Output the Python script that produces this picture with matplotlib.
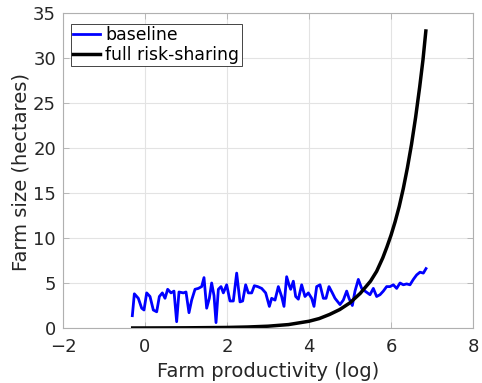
import matplotlib
matplotlib.use("Agg")
import matplotlib.pyplot as plt

zx_base = [397, 403, 415, 425, 432, 440, 450, 460, 470, 478, 487, 495, 503, 513, 522, 530, 537, 550, 558, 567,
           575, 585, 595, 605, 612, 620, 628, 635, 642, 648, 655, 663, 670, 680, 690, 700, 710, 720, 728, 737,
           745, 755, 763, 773, 785, 797, 808, 815, 825, 835, 845, 852, 860, 867, 872, 880, 887, 895, 905, 915,
           925, 935, 942, 950, 960, 970, 978, 987, 997, 1005, 1020, 1030, 1040, 1047, 1057, 1065, 1075, 1085,
           1095, 1110, 1120, 1130, 1140, 1150, 1160, 1170, 1180, 1190, 1200, 1210, 1220, 1230, 1240, 1250,
           1260, 1270, 1278]
baseline_x = [round((v - 435) / 123.0, 3) for v in zx_base]
baseline_y = [1.37, 3.8, 3.3, 2.2, 2.0, 3.9, 3.5, 2.0, 1.8, 3.5, 3.9, 3.3, 4.3, 3.9, 4.1, 0.7, 4.0, 3.9, 4.0, 1.7,
              3.1, 4.3, 4.4, 4.6, 5.6, 2.2, 3.3, 5.0, 3.6, 0.6, 4.3, 4.6, 3.9, 4.8, 3.0, 3.0, 6.1, 2.9, 3.0, 4.8,
              3.9, 3.9, 4.7, 4.6, 4.4, 3.9, 2.4, 3.3, 3.1, 4.6, 3.5, 2.4, 5.7, 4.8, 4.3, 5.2, 3.5, 3.2, 4.8, 3.5,
              3.9, 3.3, 2.4, 4.6, 4.8, 3.3, 3.3, 4.6, 3.9, 3.3, 2.6, 3.1, 4.1, 3.3, 2.5, 4.1, 5.4, 4.4,
              4.1, 3.7, 4.4, 3.5, 3.7, 4.1, 4.6, 4.6, 4.8, 4.4, 5.0, 4.8, 4.9, 4.8, 5.4, 5.9,
              6.2, 6.1, 6.6]

risk_x = [-0.3, 0.5, 1.0, 1.5, 2.0, 2.5, 3.0, 3.5, 4.0, 4.25, 4.5, 4.75, 5.0, 5.25, 5.5, 5.65, 5.8, 5.9, 6.0,
          6.1, 6.2, 6.3, 6.4, 6.5, 6.6, 6.7, 6.78, 6.85]
risk_y = [0.0, 0.01, 0.02, 0.04, 0.06, 0.11, 0.2, 0.38, 0.75, 1.05, 1.5, 2.05, 2.8, 3.85, 5.2, 6.3, 7.8, 9.0, 10.3,
          11.8, 13.5, 15.5, 17.8, 20.4, 23.4, 26.8, 29.8, 33.0]

x_ticks = [-2, 0, 2, 4, 6, 8]
y_ticks = [0, 5, 10, 15, 20, 25, 30, 35]

plt.rcParams['font.family'] = ['DejaVu Sans']

fig = plt.figure(figsize=(4.82, 3.83), dpi=100)
ax = fig.add_axes([63/482, 55/383, 410/482, 315/383])

ax.plot(baseline_x, baseline_y, color='#0000ff', lw=2.0, label='baseline')
ax.plot(risk_x, risk_y, color='black', lw=2.5, label='full risk-sharing')

ax.set_xlim(-2, 8)
ax.set_ylim(0, 35)
ax.set_xticks(x_ticks)
ax.set_yticks(y_ticks)
ax.set_xticklabels(['\u22122' if t < 0 else str(t) for t in x_ticks])
ax.grid(True, color='#e3e3e3', lw=0.8)
ax.set_axisbelow(True)
for s in ax.spines.values():
    s.set_color('#b0b0b0')
    s.set_linewidth(0.8)
ax.tick_params(direction='in', top=True, right=True, labelsize=13, labelcolor='#262626',
               color='#b0b0b0', length=4, width=0.6, pad=5)
ax.tick_params(axis='x', pad=7)
ax.set_xlabel('Farm productivity (log)', fontsize=14, color='#262626')
ax.set_ylabel('Farm size (hectares)', fontsize=14, color='#262626')
ax.xaxis.set_label_coords(0.5, -0.108)
ax.yaxis.set_label_coords(-0.079, 0.495)

leg = ax.legend(loc='upper left', bbox_to_anchor=(0.0195, 0.966), borderaxespad=0,
                fontsize=12.4, frameon=True, fancybox=False, framealpha=1,
                handlelength=1.55, handletextpad=0.33, borderpad=0.12, labelspacing=0.15)
leg.get_frame().set_edgecolor('#262626')
leg.get_frame().set_linewidth(0.6)

fig.savefig('out.png', dpi=100)
